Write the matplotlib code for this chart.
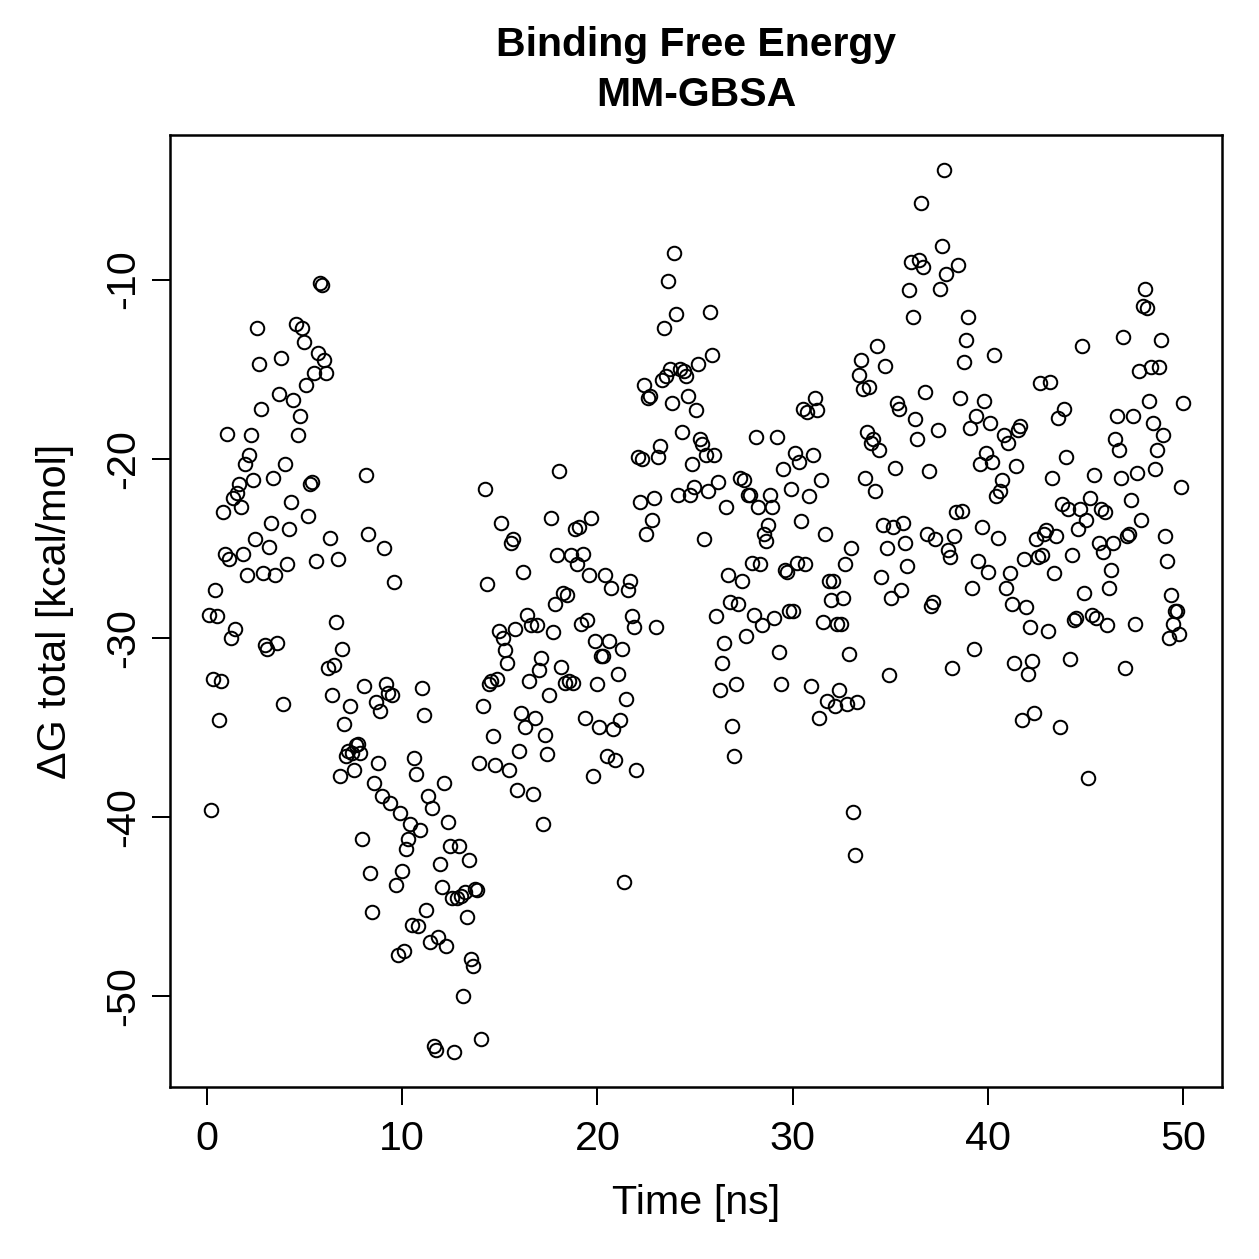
import numpy as np
import matplotlib
matplotlib.use("Agg")
import matplotlib.pyplot as plt

plt.rcParams['font.family'] = ['Liberation Sans', 'DejaVu Sans']

title_lines = ["Binding Free Energy", "MM-GBSA"]
x_label = "Time [ns]"
y_label = "ΔG total [kcal/mol]"
x_ticks = [0, 10, 20, 30, 40, 50]
y_ticks = [-50, -40, -30, -20, -10]

dg_total = [
-28.7, -39.6, -32.3, -27.3, -28.8, -34.6, -32.4, -23.0, -25.3, -18.6,
-25.6, -30.0, -22.2, -29.5, -21.9, -21.4, -22.7, -25.3, -20.3, -26.5,
-19.8, -18.7, -21.2, -24.5, -12.7, -14.7, -17.2, -26.4, -30.4, -30.6,
-24.9, -23.6, -21.1, -26.5, -30.3, -16.4, -14.4, -33.7, -20.3, -25.9,
-23.9, -22.4, -16.7, -12.5, -18.7, -17.6, -12.7, -13.5, -15.9, -23.2,
-21.4, -21.3, -15.2, -25.7, -14.1, -10.2, -10.3, -14.5, -15.2, -31.7,
-24.4, -33.2, -31.5, -29.1, -25.6, -37.7, -30.6, -34.8, -36.6, -36.3,
-33.8, -36.4, -37.4, -36.0, -35.9, -36.4, -41.2, -32.7, -20.9, -24.2,
-43.1, -45.3, -38.1, -33.6, -37.0, -34.1, -38.8, -25.0, -32.6, -33.1,
-39.2, -33.2, -26.9, -43.8, -47.7, -39.8, -43.0, -47.5, -41.8, -41.2,
-40.4, -46.0, -36.7, -37.6, -46.1, -40.7, -32.8, -34.3, -45.2, -38.8,
-47.0, -39.5, -52.8, -53.0, -46.7, -42.6, -43.9, -38.1, -47.2, -40.3,
-41.6, -44.5, -53.1, -44.5, -41.6, -44.4, -50.0, -44.2, -45.6, -42.4,
-47.9, -48.3, -44.0, -44.1, -37.0, -52.4, -33.8, -21.7, -27.0, -32.6,
-32.4, -35.5, -37.1, -32.3, -29.6, -23.6, -30.0, -30.7, -31.4, -37.4,
-24.7, -24.5, -29.5, -38.5, -36.3, -34.2, -26.3, -35.0, -28.7, -32.4,
-29.3, -38.7, -34.5, -29.3, -31.8, -31.1, -40.4, -35.4, -36.5, -33.2,
-23.3, -29.7, -28.1, -25.4, -20.7, -31.6, -27.5, -32.5, -27.6, -32.4,
-25.4, -32.5, -23.9, -25.9, -23.8, -29.2, -25.3, -34.5, -29.0, -26.5,
-23.3, -37.7, -30.2, -32.6, -35.0, -31.0, -31.0, -26.5, -36.6, -30.2,
-27.2, -35.1, -36.8, -32.0, -34.6, -30.6, -43.6, -33.4, -27.3, -26.8,
-28.8, -29.4, -37.4, -19.9, -22.4, -20.0, -15.9, -24.2, -16.6, -16.5,
-23.4, -22.2, -29.4, -19.9, -19.3, -15.6, -12.7, -15.4, -10.1, -15.0,
-16.9, -8.5, -11.9, -22.0, -15.0, -18.5, -15.1, -15.4, -16.5, -22.0,
-20.3, -21.6, -17.3, -14.7, -18.9, -19.2, -24.5, -19.8, -21.8, -11.8,
-14.2, -19.8, -28.8, -21.3, -32.9, -31.4, -30.3, -22.7, -26.5, -28.0,
-34.9, -36.6, -32.6, -28.1, -21.1, -26.8, -21.2, -29.9, -22.0, -22.0,
-25.8, -28.7, -18.8, -22.7, -25.9, -29.3, -24.2, -24.6, -23.7, -22.0,
-22.7, -28.9, -18.8, -30.8, -32.6, -20.6, -26.2, -26.3, -28.5, -21.7,
-28.5, -19.7, -25.8, -20.2, -23.5, -17.2, -25.9, -17.4, -22.1, -32.7,
-19.8, -16.6, -17.3, -34.5, -21.2, -29.1, -24.2, -33.5, -26.8, -27.9,
-26.8, -33.8, -29.2, -32.9, -29.2, -27.8, -25.9, -33.7, -30.9, -25.0,
-39.7, -42.1, -33.6, -15.3, -14.5, -16.1, -21.1, -18.5, -16.0, -19.1,
-18.9, -21.8, -13.7, -19.5, -26.6, -23.7, -14.8, -25.0, -32.1, -27.8,
-23.8, -20.5, -16.9, -17.2, -27.3, -23.6, -24.7, -26.0, -10.6, -9.0,
-12.1, -17.8, -18.9, -8.9, -5.7, -9.3, -16.3, -24.2, -20.7, -28.2,
-28.0, -24.5, -18.4, -10.5, -8.1, -3.9, -9.7, -25.1, -25.5, -31.7,
-24.3, -23.0, -9.2, -16.6, -22.9, -14.6, -13.4, -12.1, -18.3, -27.2,
-30.6, -17.6, -25.7, -20.3, -23.8, -16.8, -19.7, -26.3, -18.0, -20.2,
-14.2, -22.1, -24.4, -21.8, -21.2, -18.7, -27.2, -19.1, -26.4, -28.1,
-31.4, -20.4, -18.4, -18.2, -34.6, -25.6, -28.3, -32.0, -29.4, -31.3,
-34.2, -24.5, -25.5, -15.8, -25.4, -24.2, -24.0, -29.6, -15.7, -21.1,
-26.4, -24.3, -17.7, -35.0, -22.5, -17.2, -19.9, -22.8, -31.2, -25.4,
-29.0, -28.9, -23.9, -22.8, -13.7, -27.5, -23.4, -37.8, -22.2, -28.7,
-20.9, -28.9, -24.7, -22.8, -25.2, -23.0, -29.3, -27.2, -26.2, -24.7,
-18.9, -17.6, -19.5, -21.1, -13.2, -31.7, -24.3, -24.2, -22.3, -17.6,
-29.2, -20.8, -15.1, -23.4, -11.5, -10.5, -11.6, -16.8, -14.9, -18.0,
-20.6, -19.5, -14.9, -13.4, -18.7, -24.3, -25.7, -30.0, -27.6, -29.2,
-28.5, -28.5, -29.8, -21.6, -16.9,
]

time_ns = np.linspace(0.1, 50.0, len(dg_total))

W = 1259
dpi = 180
fig = plt.figure(figsize=(W / dpi, W / dpi), dpi=dpi)
ax = fig.add_axes([170 / W, 1 - 1087 / W, (1222 - 170) / W, (1087 - 135) / W])

ax.plot(time_ns, dg_total, linestyle='none', marker='o', markersize=5.4,
        markerfacecolor='none', markeredgecolor='black', markeredgewidth=0.8)

t_min, t_max = min(time_ns), max(time_ns)
y_min, y_max = min(dg_total), max(dg_total)
ax.set_xlim(t_min - 0.04 * (t_max - t_min), t_max + 0.04 * (t_max - t_min))
ax.set_ylim(y_min - 0.04 * (y_max - y_min), y_max + 0.04 * (y_max - y_min))

ax.set_xticks(x_ticks)
ax.set_yticks(y_ticks)
ax.set_xticklabels([str(v) for v in x_ticks])
ax.set_yticklabels([str(v) for v in y_ticks], rotation=90, va='center')
ax.tick_params(direction='out', length=7.2, width=0.8, labelsize=16.5)
ax.tick_params(axis='x', pad=6)
ax.tick_params(axis='y', pad=4)

for s in ax.spines.values():
    s.set_linewidth(1.0)

fig.text((170 + 1222) / 2 / W, 1 - 1203 / W, x_label, ha='center', va='center', fontsize=16.5)
fig.text(55 / W, 1 - 611 / W, y_label, ha='center', va='center', rotation=90, fontsize=16.5)
fig.text((170 + 1222) / 2 / W, 1 - 45 / W, title_lines[0], ha='center', va='center',
         fontsize=16.4, fontweight='bold')
fig.text((170 + 1222) / 2 / W, 1 - 95 / W, title_lines[1], ha='center', va='center',
         fontsize=16.4, fontweight='bold')

fig.savefig("out.png", dpi=dpi)
